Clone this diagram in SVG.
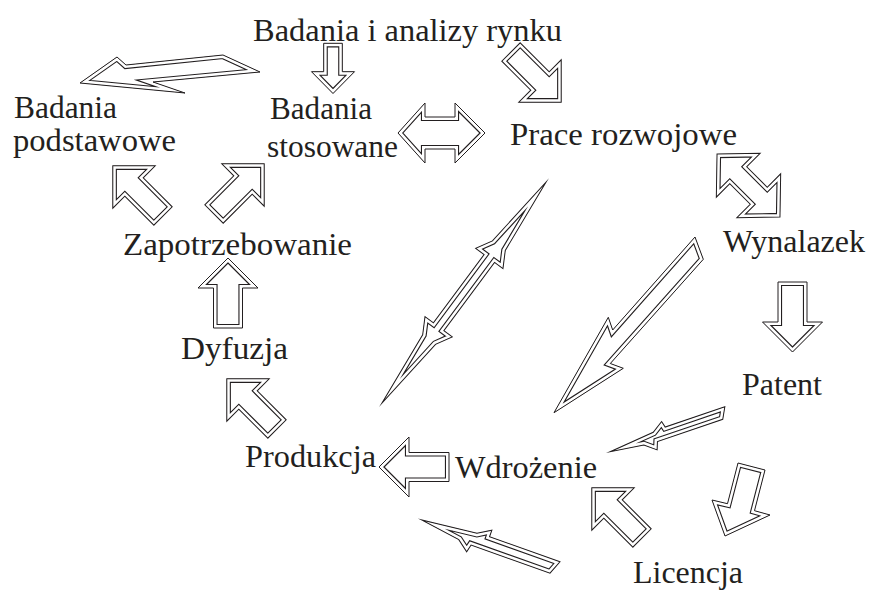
<svg xmlns="http://www.w3.org/2000/svg" width="871" height="590" viewBox="0 0 871 590">
  <style>
    text { font-family: "Liberation Serif", "Times New Roman", serif; font-size: 31.5px; fill: #231f20; }
    .band { fill: none; stroke: #231f20; stroke-width: 8.2; stroke-linejoin: miter; stroke-miterlimit: 8; }
    .gap { fill: none; stroke: #ffffff; stroke-width: 6; stroke-linejoin: miter; stroke-miterlimit: 8; }
    .edge { fill: none; stroke: #231f20; stroke-width: 1; stroke-linejoin: miter; stroke-miterlimit: 10; }
  </style>
  <defs>
    <!-- shared block-arrow outlines in local coordinates (tail at origin, pointing +x) -->
    <path id="diag" d="M0 -13H41V-30L71 0L41 30V13H0Z"/>
    <path id="block" d="M0 -14.5H40V-30L70 0L40 30V14.5H0Z"/>
    <path id="twin-diag" d="M-44.5 0L-14.5 -31V-12H14.5V-31L44.5 0L14.5 31V12H-14.5V31Z"/>
    <path id="bolt-twin" d="M0 0L79 -8L95 -17L95 -6.5L180 -6.5L180 -17L196 -8L275 0L196 8L180 17L180 6.5L95 6.5L95 17L79 8Z"/>
    <path id="bolt-patent" d="M-3 5.6L60 5.6L61.6 12L73 4.5L120 0L86 -4.5L75 -13.4L72 -5.6L3 -5.6Z"/>
    <path id="bolt-low" d="M-2.8 7L72 7L72 14L85 6L141.5 0L100 -6L88.5 -14.8L86.6 -7L2.8 -7Z"/>
    <!-- one-off outlines in page coordinates -->
    <path id="title-down" d="M323.7 43.3H342.3V71.7H354.5L333 93.5L311.5 71.7H323.7Z"/>
    <path id="sweep-left" d="M80 83L117 57L126 65L223 55L260 72L153 82L185 93Z"/>
    <path id="twin-h" d="M398 133L425 103V117H455V103L485 133L455 163V149H425V163Z"/>
    <path id="licence-down" d="M738 463L727.5 503.7L712 500L725 536L770 515L754.5 510.7L765 470Z"/>
    <path id="bolt-long" d="M695 237L612.7 330L608.3 317.3L554 412.7L623.3 368.3L610.3 363.5L703.3 259.3Z"/>

    <clipPath id="clip-diag"><use href="#diag"/></clipPath>
    <clipPath id="clip-block"><use href="#block"/></clipPath>
    <clipPath id="clip-twin-diag"><use href="#twin-diag"/></clipPath>
    <clipPath id="clip-bolt-twin"><use href="#bolt-twin"/></clipPath>
    <clipPath id="clip-bolt-patent"><use href="#bolt-patent"/></clipPath>
    <clipPath id="clip-bolt-low"><use href="#bolt-low"/></clipPath>
    <clipPath id="clip-title-down"><use href="#title-down"/></clipPath>
    <clipPath id="clip-sweep-left"><use href="#sweep-left"/></clipPath>
    <clipPath id="clip-twin-h"><use href="#twin-h"/></clipPath>
    <clipPath id="clip-licence-down"><use href="#licence-down"/></clipPath>
    <clipPath id="clip-bolt-long"><use href="#bolt-long"/></clipPath>
  </defs>

  <rect width="871" height="590" fill="#ffffff"/>

  <!-- hollow double-outlined arrows: outer edge plus an inset line drawn inside the clip -->
  <g id="connectors">
    <g id="arrow-rynek-stosowane">
      <g clip-path="url(#clip-title-down)"><use href="#title-down" class="band"/><use href="#title-down" class="gap"/></g>
      <use href="#title-down" class="edge"/>
    </g>
    <g id="arrow-to-podstawowe">
      <g clip-path="url(#clip-sweep-left)"><use href="#sweep-left" class="band"/><use href="#sweep-left" class="gap"/></g>
      <use href="#sweep-left" class="edge"/>
    </g>
    <g id="arrow-rynek-prace" transform="translate(511 52) rotate(45)">
      <g clip-path="url(#clip-diag)"><use href="#diag" class="band"/><use href="#diag" class="gap"/></g>
      <use href="#diag" class="edge"/>
    </g>
    <g id="arrow-stosowane-prace">
      <g clip-path="url(#clip-twin-h)"><use href="#twin-h" class="band"/><use href="#twin-h" class="gap"/></g>
      <use href="#twin-h" class="edge"/>
    </g>
    <g id="arrow-prace-wynalazek" transform="translate(748.5 185.5) rotate(45)">
      <g clip-path="url(#clip-twin-diag)"><use href="#twin-diag" class="band"/><use href="#twin-diag" class="gap"/></g>
      <use href="#twin-diag" class="edge"/>
    </g>
    <g id="arrow-zapotrzebowanie-podstawowe" transform="translate(163 216) rotate(-135)">
      <g clip-path="url(#clip-diag)"><use href="#diag" class="band"/><use href="#diag" class="gap"/></g>
      <use href="#diag" class="edge"/>
    </g>
    <g id="arrow-zapotrzebowanie-stosowane" transform="translate(214 214) rotate(-45)">
      <g clip-path="url(#clip-diag)"><use href="#diag" class="band"/><use href="#diag" class="gap"/></g>
      <use href="#diag" class="edge"/>
    </g>
    <g id="arrow-dyfuzja-zapotrzebowanie" transform="translate(228 328) rotate(-90)">
      <g clip-path="url(#clip-block)"><use href="#block" class="band"/><use href="#block" class="gap"/></g>
      <use href="#block" class="edge"/>
    </g>
    <g id="arrow-produkcja-dyfuzja" transform="translate(277 429) rotate(-135)">
      <g clip-path="url(#clip-diag)"><use href="#diag" class="band"/><use href="#diag" class="gap"/></g>
      <use href="#diag" class="edge"/>
    </g>
    <g id="arrow-wdrozenie-produkcja" transform="translate(449 467) rotate(180)">
      <g clip-path="url(#clip-block)"><use href="#block" class="band"/><use href="#block" class="gap"/></g>
      <use href="#block" class="edge"/>
    </g>
    <g id="arrow-licencja-wdrozenie" transform="translate(642 538) rotate(-135)">
      <g clip-path="url(#clip-diag)"><use href="#diag" class="band"/><use href="#diag" class="gap"/></g>
      <use href="#diag" class="edge"/>
    </g>
    <g id="arrow-wynalazek-patent" transform="translate(792.5 282) rotate(90)">
      <g clip-path="url(#clip-block)"><use href="#block" class="band"/><use href="#block" class="gap"/></g>
      <use href="#block" class="edge"/>
    </g>
    <g id="arrow-patent-licencja">
      <g clip-path="url(#clip-licence-down)"><use href="#licence-down" class="band"/><use href="#licence-down" class="gap"/></g>
      <use href="#licence-down" class="edge"/>
    </g>
    <g id="arrow-prace-produkcja" transform="translate(382 403) rotate(-53.4)">
      <g clip-path="url(#clip-bolt-twin)"><use href="#bolt-twin" class="band"/><use href="#bolt-twin" class="gap"/></g>
      <use href="#bolt-twin" class="edge"/>
    </g>
    <g id="arrow-wynalazek-wdrozenie">
      <g clip-path="url(#clip-bolt-long)"><use href="#bolt-long" class="band"/><use href="#bolt-long" class="gap"/></g>
      <use href="#bolt-long" class="edge"/>
    </g>
    <g id="arrow-patent-wdrozenie" transform="translate(723.8 413) rotate(161.2)">
      <g clip-path="url(#clip-bolt-patent)"><use href="#bolt-patent" class="band"/><use href="#bolt-patent" class="gap"/></g>
      <use href="#bolt-patent" class="edge"/>
    </g>
    <g id="arrow-licencja-produkcja" transform="translate(555 567.5) rotate(-160.4)">
      <g clip-path="url(#clip-bolt-low)"><use href="#bolt-low" class="band"/><use href="#bolt-low" class="gap"/></g>
      <use href="#bolt-low" class="edge"/>
    </g>
  </g>

  <!-- stage labels -->
  <g id="node-badania-rynku"><text x="253" y="40.5" textLength="309" lengthAdjust="spacingAndGlyphs">Badania i analizy rynku</text></g>
  <g id="node-badania-podstawowe">
    <text x="14" y="118" textLength="103" lengthAdjust="spacingAndGlyphs">Badania</text>
    <text x="13" y="151" textLength="163" lengthAdjust="spacingAndGlyphs">podstawowe</text>
  </g>
  <g id="node-badania-stosowane">
    <text x="270" y="119" textLength="102" lengthAdjust="spacingAndGlyphs">Badania</text>
    <text x="267" y="157" textLength="131" lengthAdjust="spacingAndGlyphs">stosowane</text>
  </g>
  <g id="node-prace-rozwojowe"><text x="510" y="145" textLength="227" lengthAdjust="spacingAndGlyphs">Prace rozwojowe</text></g>
  <g id="node-wynalazek"><text x="723" y="252" textLength="142" lengthAdjust="spacingAndGlyphs">Wynalazek</text></g>
  <g id="node-zapotrzebowanie"><text x="123" y="255" textLength="229" lengthAdjust="spacingAndGlyphs">Zapotrzebowanie</text></g>
  <g id="node-dyfuzja"><text x="181" y="358.5" textLength="107" lengthAdjust="spacingAndGlyphs">Dyfuzja</text></g>
  <g id="node-patent"><text x="742" y="395" textLength="80" lengthAdjust="spacingAndGlyphs">Patent</text></g>
  <g id="node-produkcja"><text x="245" y="467" textLength="131" lengthAdjust="spacingAndGlyphs">Produkcja</text></g>
  <g id="node-wdrozenie"><text x="455" y="477.5" textLength="142" lengthAdjust="spacingAndGlyphs">Wdrożenie</text></g>
  <g id="node-licencja"><text x="633" y="583" textLength="110" lengthAdjust="spacingAndGlyphs">Licencja</text></g>
</svg>
